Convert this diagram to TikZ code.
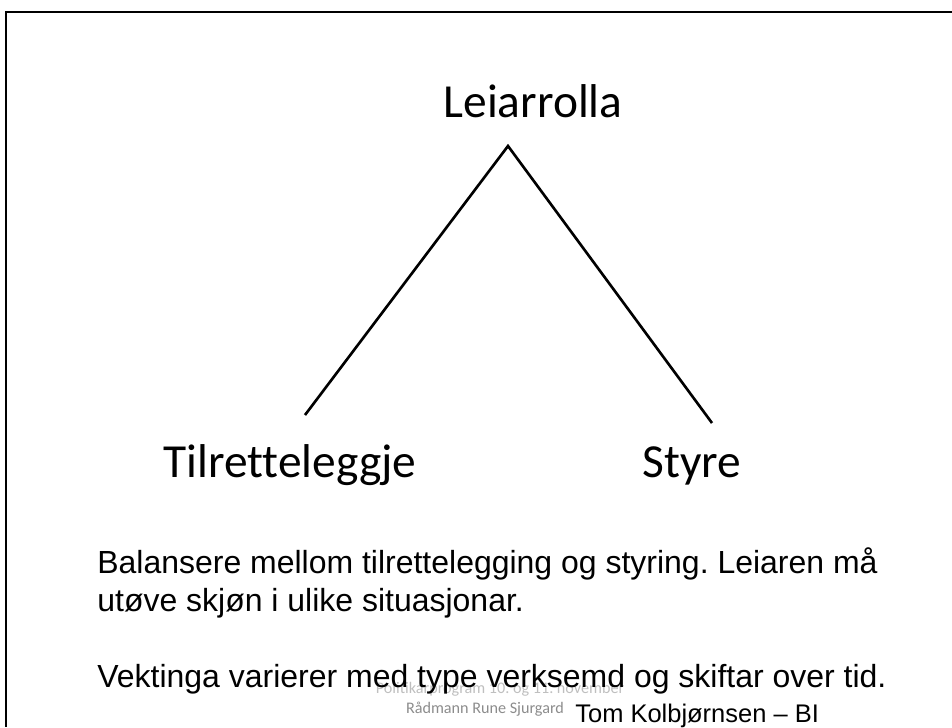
\documentclass[tikz,border=0pt]{standalone}
\usepackage{fontspec}
\setmainfont[Ligatures=NoCommon]{Carlito}
\newfontfamily\arialfont{Liberation Sans}
\usepackage{tikz}
\usetikzlibrary{positioning,calc}
\frenchspacing

\begin{document}
\begin{tikzpicture}[x=0.02cm, y=-0.02cm,
    rolle label/.style={inner sep=0pt, font=\fontsize{27}{30}\selectfont},
    body text/.style={inner sep=0pt, anchor=base west, font=\arialfont\fontsize{18.2}{22}\selectfont},
    foot text/.style={inner sep=0pt, anchor=base, font=\fontsize{9.2}{11}\selectfont}]
    \useasboundingbox (0,0) rectangle (952,727);
    \draw[line width=1.2pt] (952,12) -- (6,12) -- (6,727);

    \coordinate (top) at (508,146);
    \coordinate (venstre) at (305,415);
    \coordinate (hogre) at (712,423);
    \draw[line width=1.5pt] (venstre) -- (top) -- (hogre);

    \node[rolle label, anchor=base] (leiar) at (533,117) {Leiarrolla};
    \node[rolle label, anchor=base] (tilrett) at (290,477) {Tilretteleggje};
    \node[rolle label, anchor=base] (styre) at (692,477) {Styre};

    \node[foot text, text=black!25] (program) at (500,693) {Politikarprogram 10. og 11. november};
    \node[foot text, text=black!45] (radmann) at (485,713) {Rådmann Rune Sjurgard};

    \node[body text] (linje1) at (97,573) {Balansere mellom tilrettelegging og styring. Leiaren må};
    \node[body text] (linje2) at (97,611) {utøve skjøn i ulike situasjonar.};
    \node[body text] (linje3) at (97,687) {Vektinga varierer med type verksemd og skiftar over tid.};
    \node[body text, font=\arialfont\fontsize{14.5}{16}\selectfont] (tom) at (575,722) {Tom Kolbjørnsen – BI};
\end{tikzpicture}
\end{document}
